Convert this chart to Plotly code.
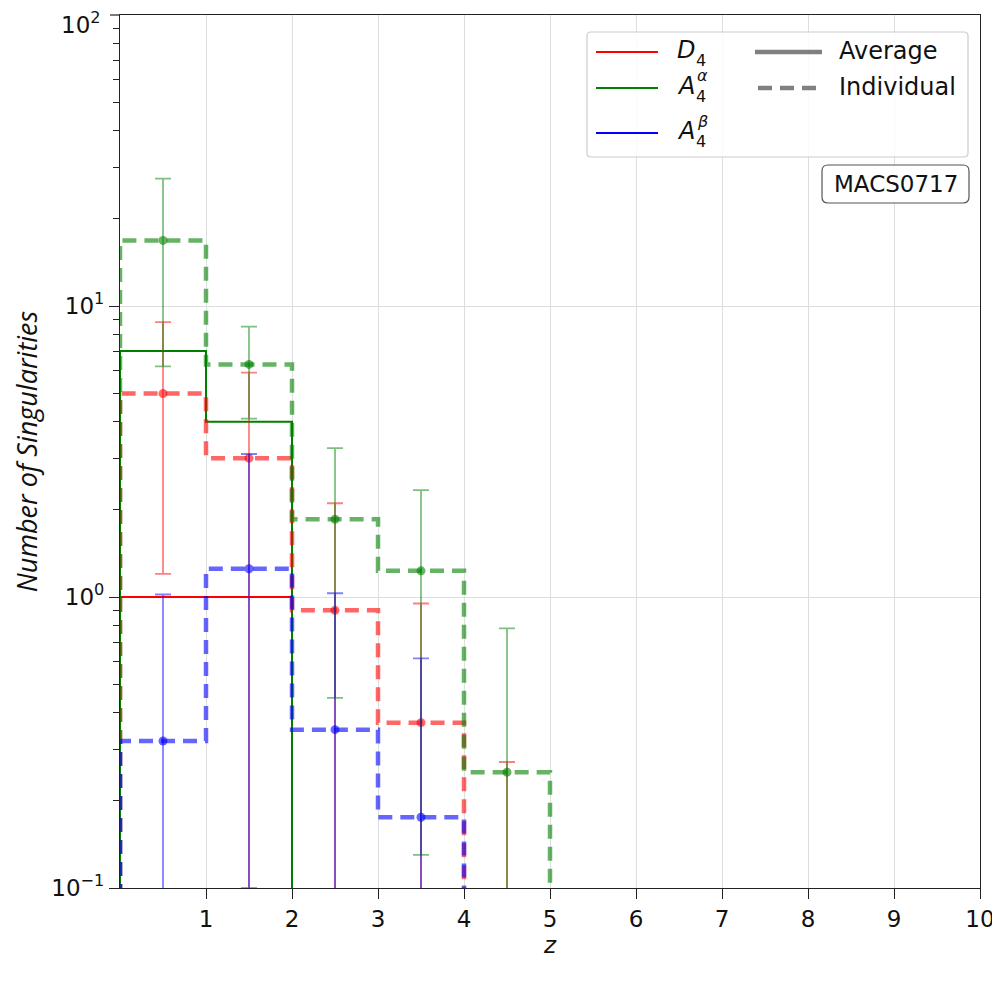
import plotly.graph_objects as go

# ---------------- data ----------------
bin_edges = [0, 1, 2, 3, 4, 5, 6, 7, 8, 9, 10]
bin_centers = [0.5, 1.5, 2.5, 3.5, 4.5, 5.5, 6.5, 7.5, 8.5, 9.5]

d4_avg = [1.0, 1.0, 0, 0, 0, 0, 0, 0, 0, 0]
a4a_avg = [7.0, 4.0, 0, 0, 0, 0, 0, 0, 0, 0]
a4b_avg = [0, 0, 0, 0, 0, 0, 0, 0, 0, 0]

d4_ind = [5.0, 3.0, 0.9, 0.37, 0, 0, 0, 0, 0, 0]
d4_err = [3.8, 2.9, 1.2, 0.58, 0.27, 0, 0, 0, 0, 0]
a4a_ind = [16.8, 6.3, 1.85, 1.23, 0.25, 0, 0, 0, 0, 0]
a4a_err = [10.6, 2.2, 1.4, 1.1, 0.53, 0, 0, 0, 0, 0]
a4b_ind = [0.32, 1.25, 0.35, 0.175, 0, 0, 0, 0, 0, 0]
a4b_err = [0.70, 1.85, 0.68, 0.44, 0, 0, 0, 0, 0, 0]

x_ticks = [1, 2, 3, 4, 5, 6, 7, 8, 9, 10]
y_ticks = [0.1, 1, 10]
y_ticktext = ["10<sup>−1</sup>", "10<sup>0</sup>", "10<sup>1</sup>"]
y_top_label = "10<sup>2</sup>"  # top tick label, drawn as annotation so the page edge does not cut it
y_minor_ticks = [0.2, 0.3, 0.4, 0.5, 0.6, 0.7, 0.8, 0.9,
                 2, 3, 4, 5, 6, 7, 8, 9,
                 20, 30, 40, 50, 60, 70, 80, 90]
cluster_name = "MACS0717"

FLOOR = 1e-3  # empty bins drawn below the visible log range

# ---------------- figure ----------------
W, H = 1000, 1000
OFF = 8  # page body margin of the html page
# plot area wanted in screen pixels: x 120..980, y 15..888
ML, MT = 120 - OFF, 15 - OFF
MR = W - (980 - OFF)
MB = H - (888 - OFF)
PW, PH = W - ML - MR, H - MT - MB


def px(x):
    return (x - OFF - ML) / PW


def py(y):
    return (H - MB - (y - OFF)) / PH


def floor(v):
    return [max(a, FLOOR) for a in v]


def step_xy(vals):
    xs = list(bin_edges[:-1]) + [bin_edges[-1]]
    ys = floor(vals) + [floor(vals)[-1]]
    return [bin_edges[0]] + xs, [FLOOR] + ys


series = [
    ("D4", d4_avg, d4_ind, d4_err, (255, 0, 0)),
    ("A4a", a4a_avg, a4a_ind, a4a_err, (0, 128, 0)),
    ("A4b", a4b_avg, a4b_ind, a4b_err, (0, 0, 255)),
]

fig = go.Figure()

for name, avg, ind, err, (r, g, b) in series:
    sx, sy = step_xy(avg)
    fig.add_trace(go.Scatter(x=sx, y=sy, mode="lines", line_shape="hv",
                             line=dict(color=f"rgb({r},{g},{b})", width=2),
                             showlegend=False, hoverinfo="skip"))

for name, avg, ind, err, (r, g, b) in series:
    sx, sy = step_xy(ind)
    fig.add_trace(go.Scatter(x=sx, y=sy, mode="lines", line_shape="hv",
                             line=dict(color=f"rgba({r},{g},{b},0.6)", width=4.5,
                                       dash="14px,8px"),
                             showlegend=False, hoverinfo="skip"))

for name, avg, ind, err, (r, g, b) in series:
    fig.add_trace(go.Scatter(
        x=bin_centers, y=floor(ind), mode="markers",
        marker=dict(color=f"rgba({r},{g},{b},0.6)", size=9),
        error_y=dict(type="data", array=err, symmetric=True,
                     color=f"rgba({r},{g},{b},0.5)", thickness=1.8, width=8),
        showlegend=False, hoverinfo="skip"))

fig.update_xaxes(range=[0, 10], tickvals=x_ticks, ticks="outside", ticklen=10,
                 tickwidth=1.2, tickcolor="#222", showgrid=True, gridcolor="#dedede",
                 gridwidth=1, showline=True, linecolor="#222", linewidth=1.2,
                 mirror=True, zeroline=False, automargin=False,
                 tickfont=dict(family="DejaVu Sans", size=23, color="#111"),
                 title=dict(text="<i>z</i>", font=dict(family="DejaVu Sans", size=23, color="#111"),
                            standoff=6))
fig.update_yaxes(type="log", range=[-1, 2], tickvals=y_ticks, ticktext=y_ticktext,
                 ticks="outside", ticklen=10, tickwidth=1.2, tickcolor="#222",
                 minor=dict(tickmode="array", tickvals=y_minor_ticks, ticks="outside",
                            ticklen=6, tickwidth=1, tickcolor="#222", showgrid=False),
                 showgrid=True, gridcolor="#dedede", gridwidth=1,
                 showline=True, linecolor="#222", linewidth=1.2, mirror=True,
                 zeroline=False, automargin=False,
                 tickfont=dict(family="DejaVu Sans", size=23, color="#111"),
                 title=dict(text="<i>Number of Singularities</i>",
                            font=dict(family="Open Sans", size=27, color="#111"),
                            standoff=8))

shapes = []
annotations = []

# top y tick (at the upper frame) and its label
shapes.append(dict(type="line", xref="paper", yref="paper", x0=px(110), x1=px(120),
                   y0=1, y1=1, line=dict(color="#222", width=1.2)))
annotations.append(dict(x=px(103), y=py(23), xref="paper", yref="paper", text=y_top_label,
                        showarrow=False, xanchor="right", yanchor="middle",
                        font=dict(family="DejaVu Sans", size=23, color="#111")))


def rounded(x0, x1, y0, y1, rr):
    return (f"M {px(x0+rr)} {py(y0)} L {px(x1-rr)} {py(y0)} Q {px(x1)} {py(y0)} {px(x1)} {py(y0+rr)} "
            f"L {px(x1)} {py(y1-rr)} Q {px(x1)} {py(y1)} {px(x1-rr)} {py(y1)} "
            f"L {px(x0+rr)} {py(y1)} Q {px(x0)} {py(y1)} {px(x0)} {py(y1-rr)} "
            f"L {px(x0)} {py(y0+rr)} Q {px(x0)} {py(y0)} {px(x0+rr)} {py(y0)} Z")


# legend box
shapes.append(dict(type="path", xref="paper", yref="paper", path=rounded(587, 968, 32, 157, 4),
                   fillcolor="rgba(255,255,255,0.85)", line=dict(color="#cccccc", width=1.2)))

leg_font = dict(family="DejaVu Sans", size=24, color="#111")
sub_font = dict(family="DejaVu Sans", size=16, color="#111")
rows = [52, 88, 133]
for (name, avg, ind, err, (r, g, b)), ry in zip(series, rows):
    shapes.append(dict(type="line", xref="paper", yref="paper",
                       x0=px(596), x1=px(658), y0=py(ry), y1=py(ry),
                       line=dict(color=f"rgb({r},{g},{b})", width=1.8)))
    letter = "D" if name == "D4" else "A"
    annotations.append(dict(x=px(675), y=py(ry - 2), xref="paper", yref="paper",
                            text=f"<i>{letter}</i>", showarrow=False, xanchor="left",
                            yanchor="middle", font=leg_font))
    annotations.append(dict(x=px(694), y=py(ry + 8), xref="paper", yref="paper",
                            text="4", showarrow=False, xanchor="left", yanchor="middle",
                            font=sub_font))
    if name != "D4":
        sup = "α" if name == "A4a" else "β"
        annotations.append(dict(x=px(695), y=py(ry - 12), xref="paper", yref="paper",
                                text=f"<i>{sup}</i>", showarrow=False, xanchor="left",
                                yanchor="middle", font=sub_font))

shapes.append(dict(type="line", xref="paper", yref="paper", x0=px(755), x1=px(822),
                   y0=py(52), y1=py(52), line=dict(color="gray", width=4.5)))
shapes.append(dict(type="line", xref="paper", yref="paper", x0=px(758), x1=px(822),
                   y0=py(88), y1=py(88), line=dict(color="gray", width=4.5, dash="14px,8px")))
annotations.append(dict(x=px(837), y=py(51), xref="paper", yref="paper", text="Average",
                        showarrow=False, xanchor="left", yanchor="middle", font=leg_font))
annotations.append(dict(x=px(837), y=py(87), xref="paper", yref="paper", text="Individual",
                        showarrow=False, xanchor="left", yanchor="middle", font=leg_font))

# cluster label box
shapes.append(dict(type="path", xref="paper", yref="paper", path=rounded(822, 969, 165, 203, 6),
                   fillcolor="white", line=dict(color="#555", width=1.2)))
annotations.append(dict(x=px(895.5), y=py(184), xref="paper", yref="paper", text=cluster_name,
                        showarrow=False, xanchor="center", yanchor="middle",
                        font=dict(family="DejaVu Sans", size=23, color="#111")))

fig.update_layout(width=W, height=H, margin=dict(l=ML, r=MR, t=MT, b=MB),
                  plot_bgcolor="white", paper_bgcolor="white",
                  shapes=shapes, annotations=annotations, showlegend=False)

fig.write_html("out.html")
